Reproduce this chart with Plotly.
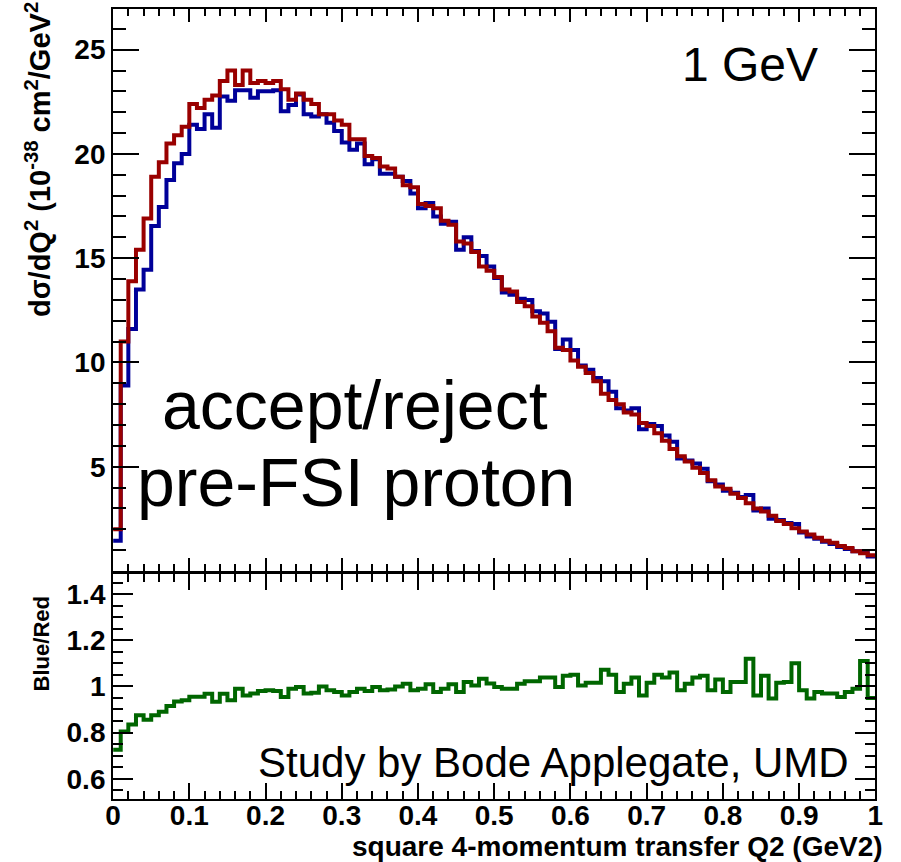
import plotly.graph_objects as go

# ---------------- data ----------------
n_bins = 100
bin_width = 0.01
bin_lo = [round(i * bin_width, 2) for i in range(n_bins)]

red_vals = [
    2.0, 11.0, 13.9, 15.4, 16.9, 18.9, 19.6, 20.5, 20.9, 21.3,
    22.4, 22.2, 22.6, 22.8, 23.5, 24.0, 23.3, 24.0, 23.4, 23.5,
    23.4, 23.5, 23.1, 22.6, 22.9, 22.6, 22.4, 21.9, 21.9, 21.6,
    21.4, 20.7, 20.7, 19.9, 19.8, 19.4, 19.3, 18.9, 18.5, 18.4,
    17.6, 17.5, 17.4, 16.8, 16.6, 15.8, 15.7, 15.3, 14.6, 14.4,
    14.1, 13.5, 13.4, 12.9, 12.7, 12.2, 11.9, 11.5, 10.7, 10.6,
    10.1, 9.8, 9.5, 9.1, 8.5, 8.2, 8.0, 7.6, 7.5, 7.1,
    6.95, 6.6, 6.25, 5.85, 5.5, 5.25, 4.95, 4.7, 4.35, 4.05,
    3.95, 3.7, 3.5, 3.25, 3.0, 2.85, 2.65, 2.4, 2.25, 2.05,
    1.9, 1.75, 1.6, 1.45, 1.35, 1.2, 1.1, 0.95, 0.85, 0.75,
]

blue_vals = [
    1.45, 8.9, 11.6, 13.5, 14.45, 16.55, 17.45, 18.75, 19.55, 20.0,
    21.4, 21.2, 21.9, 21.25, 22.75, 22.55, 23.05, 23.05, 22.7, 23.0,
    23.0, 23.05, 22.05, 22.35, 22.85, 21.9, 21.8, 21.9, 21.5, 21.1,
    20.55, 20.2, 20.5, 19.5, 19.75, 19.05, 19.05, 18.9, 18.7, 18.1,
    17.4, 17.65, 17.0, 16.65, 16.75, 15.4, 16.0, 15.35, 15.1, 14.6,
    14.05, 13.35, 13.25, 13.05, 13.0, 12.45, 12.35, 11.95, 10.65, 11.1,
    10.6, 9.85, 9.65, 9.25, 9.1, 8.6, 7.8, 7.7, 7.8, 6.8,
    7.05, 6.95, 6.5, 6.2, 5.4, 5.3, 5.15, 4.9, 4.3, 4.15,
    3.85, 3.75, 3.55, 3.65, 2.9, 3.0, 2.5, 2.45, 2.3, 2.25,
    1.85, 1.65, 1.55, 1.4, 1.3, 1.15, 1.05, 0.95, 0.95, 0.7,
]

ratio_vals = [
    0.725, 0.805, 0.835, 0.875, 0.855, 0.875, 0.89, 0.915, 0.935, 0.94,
    0.955, 0.955, 0.968, 0.933, 0.968, 0.94, 0.99, 0.961, 0.969, 0.98,
    0.983, 0.98, 0.954, 0.99, 0.997, 0.969, 0.972, 1.0, 0.983, 0.976,
    0.961, 0.976, 0.99, 0.98, 0.997, 0.983, 0.986, 1.0, 1.011, 0.983,
    0.99, 1.009, 0.976, 0.99, 1.009, 0.976, 1.019, 1.004, 1.033, 1.013,
    0.997, 0.99, 0.99, 1.011, 1.022, 1.022, 1.039, 1.039, 0.997, 1.046,
    1.05, 1.004, 1.016, 1.016, 1.072, 1.05, 0.976, 1.011, 1.039, 0.961,
    1.016, 1.05, 1.039, 1.06, 0.983, 1.011, 1.039, 1.046, 0.983, 1.03,
    0.976, 1.019, 1.019, 1.12, 0.961, 1.046, 0.947, 1.016, 1.019, 1.1,
    0.983, 0.947, 0.976, 0.969, 0.969, 0.954, 0.976, 0.99, 1.11, 0.95,
]

x_ticks = [0, 0.1, 0.2, 0.3, 0.4, 0.5, 0.6, 0.7, 0.8, 0.9, 1]
x_ticklabels = ["0", "0.1", "0.2", "0.3", "0.4", "0.5", "0.6", "0.7", "0.8", "0.9", "1"]
top_yticks = [5, 10, 15, 20, 25]
bot_yticks = [0.6, 0.8, 1.0, 1.2, 1.4]
bot_yticklabels = ["0.6", "0.8", "1", "1.2", "1.4"]

# ---------------- styling ----------------
W, H = 901, 862
RED = "#990000"
BLUE = "#000099"
GREEN = "#006600"
FONT = "Liberation Sans, Arial, Helvetica, sans-serif"


def fx(px):
    return px / W


def fy(py):
    return 1 - py / H


def steps(vals):
    return bin_lo + [1.0], list(vals) + [vals[-1]]


fig = go.Figure()

bx, by = steps(blue_vals)
fig.add_trace(go.Scatter(x=bx, y=by, mode="lines", line=dict(color=BLUE, width=4, shape="hv"),
                         xaxis="x", yaxis="y", showlegend=False, hoverinfo="skip"))
rx, ry = steps(red_vals)
fig.add_trace(go.Scatter(x=rx, y=ry, mode="lines", line=dict(color=RED, width=4, shape="hv"),
                         xaxis="x", yaxis="y", showlegend=False, hoverinfo="skip"))
gx, gy = steps(ratio_vals)
fig.add_trace(go.Scatter(x=gx, y=gy, mode="lines", line=dict(color=GREEN, width=4, shape="hv"),
                         xaxis="x2", yaxis="y2", showlegend=False, hoverinfo="skip"))

xdom = [fx(107), fx(883)]
axis_common = dict(showline=True, linecolor="black", linewidth=2, mirror="ticks",
                   ticks="inside", tickcolor="black", tickwidth=2,
                   showgrid=False, zeroline=False, fixedrange=True)
tickfont = dict(family=FONT, size=28, color="black", weight="bold")

fig.update_layout(
    width=W, height=H,
    margin=dict(l=0, r=0, t=0, b=0),
    paper_bgcolor="white", plot_bgcolor="white",
    showlegend=False,
    xaxis=dict(domain=xdom, range=[0, 1], anchor="y", showticklabels=False,
               tickvals=x_ticks, ticklen=13,
               minor=dict(dtick=0.02, tick0=0, ticks="inside", ticklen=7, tickcolor="black", tickwidth=2),
               **axis_common),
    yaxis=dict(domain=[fy(571), fy(9)], range=[0, 26.95], anchor="x",
               tickvals=top_yticks, ticklen=26, tickfont=tickfont,
               minor=dict(dtick=1, tick0=0, ticks="inside", ticklen=13, tickcolor="black", tickwidth=2),
               **axis_common),
    xaxis2=dict(domain=xdom, range=[0, 1], anchor="y2",
                tickvals=x_ticks, ticktext=x_ticklabels, ticklen=16, tickfont=tickfont,
                ticklabelstandoff=-10,
                minor=dict(dtick=0.02, tick0=0, ticks="inside", ticklen=8, tickcolor="black", tickwidth=2),
                **axis_common),
    yaxis2=dict(domain=[fy(799), fy(574)], range=[0.512, 1.487], anchor="x2",
                tickvals=bot_yticks, ticktext=bot_yticklabels, ticklen=20, tickfont=tickfont,
                minor=dict(dtick=0.05, tick0=0, ticks="inside", ticklen=10, tickcolor="black", tickwidth=2),
                **axis_common),
)

ann = [
    dict(text="1 GeV", x=fx(684), y=fy(65), xanchor="left", yanchor="middle",
         font=dict(family=FONT, size=48, color="black")),
    dict(text="accept/reject", x=fx(155), y=fy(405), xanchor="left", yanchor="middle",
         font=dict(family=FONT, size=68, color="black")),
    dict(text="pre-FSI proton", x=fx(129), y=fy(482), xanchor="left", yanchor="middle",
         font=dict(family=FONT, size=68, color="black")),
    dict(text="Study by Bode Applegate, UMD", x=fx(252), y=fy(762), xanchor="left", yanchor="middle",
         font=dict(family=FONT, size=42, color="black")),
    dict(text="square 4-momentum transfer Q2 (GeV2)", x=fx(893), y=fy(846), xanchor="right", yanchor="middle",
         font=dict(family=FONT, size=28, color="black", weight="bold")),
    dict(text="dσ/dQ<sup>2</sup> (10<sup>-38</sup> cm<sup>2</sup>/GeV<sup>2</sup>", x=fx(30), y=fy(0),
         xanchor="center", yanchor="top", textangle=-90,
         font=dict(family=FONT, size=29, color="black", weight="bold")),
    dict(text="Blue/Red", x=fx(34), y=fy(644), xanchor="center", yanchor="middle", textangle=-90,
         font=dict(family=FONT, size=22, color="black", weight="bold")),
]
for a in ann:
    a.update(xref="paper", yref="paper", showarrow=False)
fig.update_layout(annotations=ann)

fig.write_html("out.html")
